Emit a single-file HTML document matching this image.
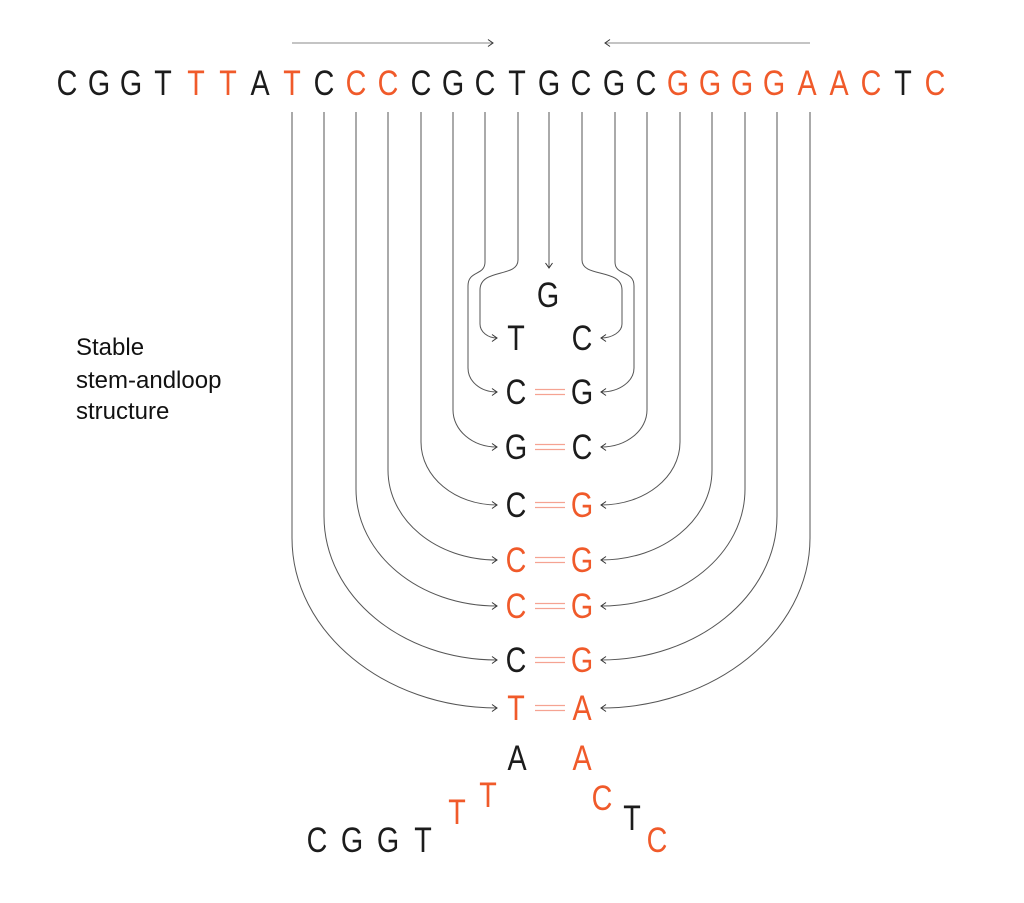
<!DOCTYPE html>
<html><head><meta charset="utf-8"><style>
html,body{margin:0;padding:0;background:#fff;}
svg{display:block}
text{font-family:"Liberation Sans",sans-serif;}
.s text{font-size:35px;text-anchor:middle;transform-box:fill-box;transform-origin:center;transform:scaleX(0.82);}
.k{fill:#1c1c1c}.r{fill:#f05a2a}
.l{font-size:24px;fill:#111}
</style></head><body>
<svg width="1024" height="903" viewBox="0 0 1024 903" xmlns="http://www.w3.org/2000/svg">
<defs>
<marker id="a" markerWidth="10" markerHeight="10" refX="8" refY="5" orient="auto" markerUnits="userSpaceOnUse">
<polyline points="3,1.5 8,5 3,8.5" fill="none" stroke="#333" stroke-width="1"/>
</marker>
</defs>
<g fill="none" stroke="#555" stroke-width="1">
<path d="M292 43 H493" marker-end="url(#a)" stroke="#888"/>
<path d="M810 43 H605" marker-end="url(#a)" stroke="#888"/>
<path d="M549 112 V268" marker-end="url(#a)"/>
<path d="M292 112 V538 C292 632 385 708 497 708" marker-end="url(#a)"/>
<path d="M324 112 V516 C324 596 402 660 497 660" marker-end="url(#a)"/>
<path d="M356 112 V489 C356 554 419 606 497 606" marker-end="url(#a)"/>
<path d="M388 112 V470 C388 520 436 560 497 560" marker-end="url(#a)"/>
<path d="M421 112 V442 C421 477 455 505 497 505" marker-end="url(#a)"/>
<path d="M453 112 V410 C453 430 472 447 497 447" marker-end="url(#a)"/>
<path d="M485 112 V262 C485 276 468 270 468 286 V368 C468 381 480 392 497 392" marker-end="url(#a)"/>
<path d="M518 112 V260 C518 278 480 268 480 290 V324 C480 332 488 338 497 338" marker-end="url(#a)"/>
<path d="M810 112 V538 C810 632 714 708 601 708" marker-end="url(#a)"/>
<path d="M777 112 V516 C777 596 697 660 601 660" marker-end="url(#a)"/>
<path d="M745 112 V489 C745 554 681 606 601 606" marker-end="url(#a)"/>
<path d="M712 112 V470 C712 520 663 560 601 560" marker-end="url(#a)"/>
<path d="M680 112 V442 C680 477 645 505 601 505" marker-end="url(#a)"/>
<path d="M647 112 V410 C647 430 627 447 601 447" marker-end="url(#a)"/>
<path d="M615 112 V262 C615 276 634 270 634 286 V368 C634 381 620 392 601 392" marker-end="url(#a)"/>
<path d="M582 112 V260 C582 278 622 268 622 290 V324 C622 332 612 338 601 338" marker-end="url(#a)"/>
</g>
<g stroke="#f5a392" stroke-width="1.3">
<path d="M535 389.5H565M535 394.5H565"/>
<path d="M535 444.5H565M535 449.5H565"/>
<path d="M535 502.5H565M535 507.5H565"/>
<path d="M535 557.5H565M535 562.5H565"/>
<path d="M535 603.5H565M535 608.5H565"/>
<path d="M535 657.5H565M535 662.5H565"/>
<path d="M535 705.5H565M535 710.5H565"/>
</g>
<g class="s">
<text x="67" y="95" class="k">C</text><text x="99" y="95" class="k">G</text><text x="131" y="95" class="k">G</text><text x="163" y="95" class="k">T</text>
<text x="196" y="95" class="r">T</text><text x="228" y="95" class="r">T</text><text x="260" y="95" class="k">A</text><text x="292" y="95" class="r">T</text>
<text x="324" y="95" class="k">C</text><text x="356" y="95" class="r">C</text><text x="388" y="95" class="r">C</text><text x="421" y="95" class="k">C</text>
<text x="453" y="95" class="k">G</text><text x="485" y="95" class="k">C</text><text x="517" y="95" class="k">T</text><text x="549" y="95" class="k">G</text>
<text x="581" y="95" class="k">C</text><text x="614" y="95" class="k">G</text><text x="646" y="95" class="k">C</text><text x="678" y="95" class="r">G</text>
<text x="710" y="95" class="r">G</text><text x="742" y="95" class="r">G</text><text x="774" y="95" class="r">G</text><text x="807" y="95" class="r">A</text>
<text x="839" y="95" class="r">A</text><text x="871" y="95" class="r">C</text><text x="903" y="95" class="k">T</text><text x="935" y="95" class="r">C</text>

<text x="548" y="307" class="k">G</text>
<text x="516" y="350" class="k">T</text><text x="582" y="350" class="k">C</text>
<text x="516" y="404" class="k">C</text><text x="582" y="404" class="k">G</text>
<text x="516" y="459" class="k">G</text><text x="582" y="459" class="k">C</text>
<text x="516" y="517" class="k">C</text><text x="582" y="517" class="r">G</text>
<text x="516" y="572" class="r">C</text><text x="582" y="572" class="r">G</text>
<text x="516" y="618" class="r">C</text><text x="582" y="618" class="r">G</text>
<text x="516" y="672" class="k">C</text><text x="582" y="672" class="r">G</text>
<text x="516" y="720" class="r">T</text><text x="582" y="720" class="r">A</text>

<text x="517" y="770" class="k">A</text><text x="582" y="770" class="r">A</text>
<text x="488" y="807" class="r">T</text><text x="457" y="824" class="r">T</text>
<text x="317" y="852" class="k">C</text><text x="352" y="852" class="k">G</text><text x="388" y="852" class="k">G</text><text x="423" y="852" class="k">T</text>
<text x="602" y="810" class="r">C</text><text x="632" y="830" class="k">T</text><text x="657" y="852" class="r">C</text>
</g>
<text x="76" y="355" class="l">Stable</text>
<text x="76" y="388" class="l">stem-andloop</text>
<text x="76" y="419" class="l">structure</text>
</svg>
</body></html>
